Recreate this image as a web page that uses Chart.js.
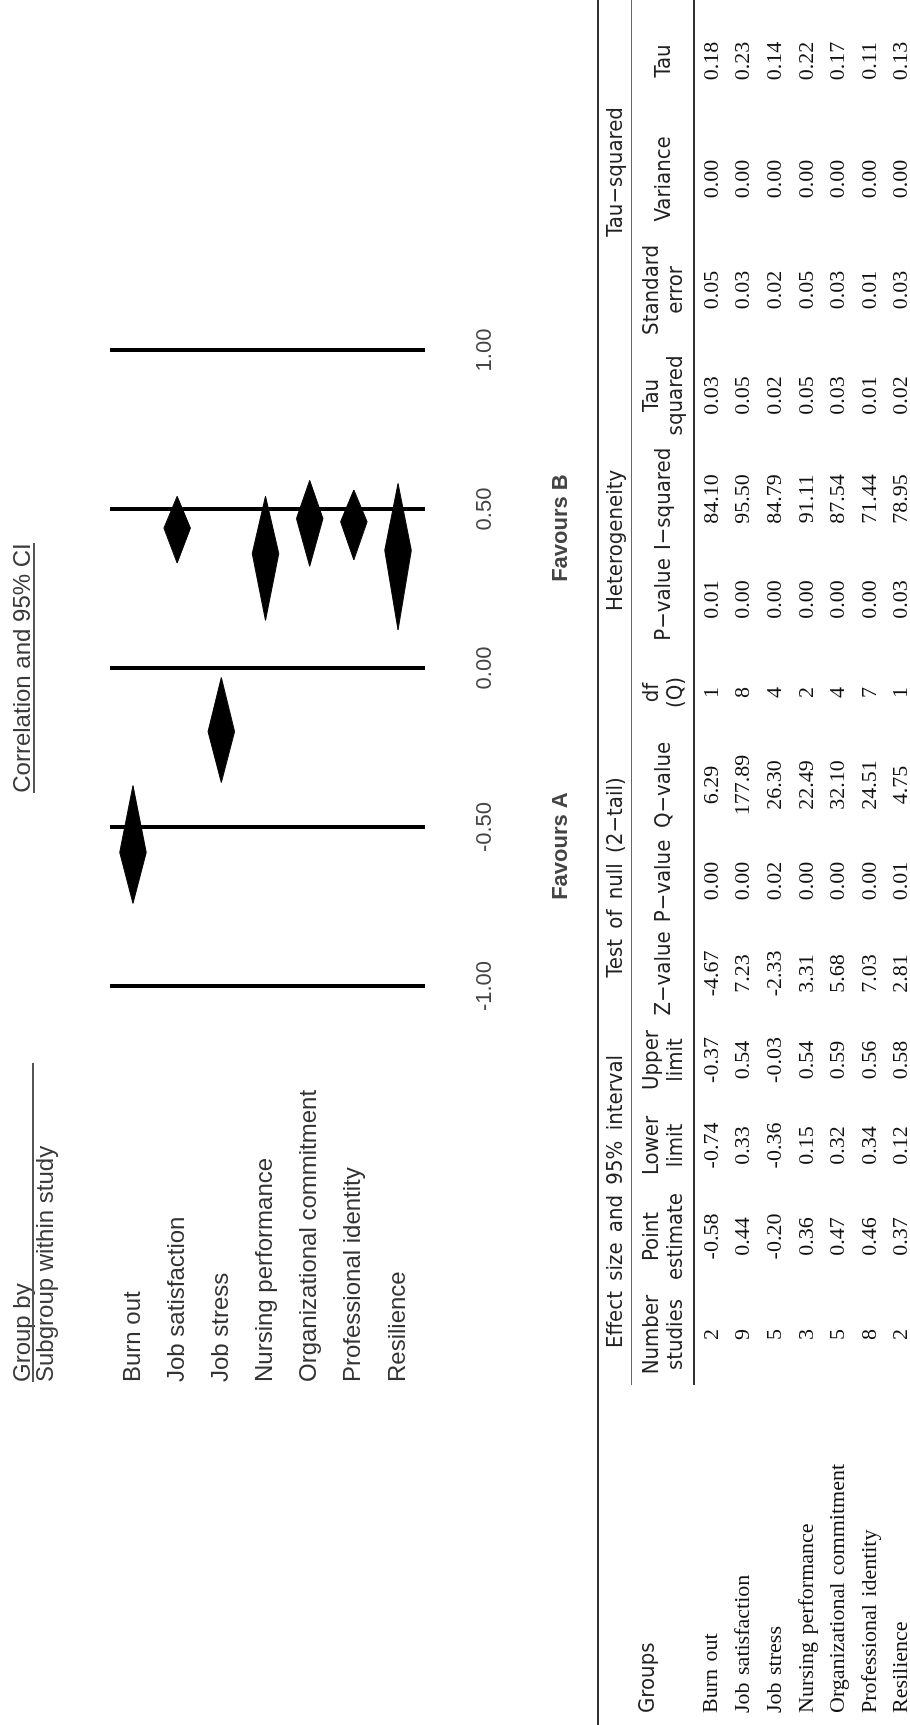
<!DOCTYPE html>
<html>
<head>
<meta charset="utf-8">
<script src="https://cdn.jsdelivr.net/npm/chart.js@4.4.0/dist/chart.umd.min.js"></script>
<style>
html,body{margin:0;padding:0;width:910px;height:1725px;overflow:hidden;background:#fff;}
#rot{position:absolute;left:0;top:1725px;width:1725px;height:910px;transform-origin:0 0;transform:rotate(-90deg);}
#forest{position:absolute;left:0;top:0;}
.hdr{position:absolute;font-family:"Liberation Sans",Arial,sans-serif;font-size:24px;color:#3a3a3a;white-space:nowrap;line-height:24px;}
.rule{position:absolute;height:2px;background:#555;}
.ul{display:inline-block;line-height:22px;border-bottom:2px solid #555;}
#tbl{position:absolute;left:0;top:597px;width:1725px;border-collapse:collapse;table-layout:fixed;color:#111;}
#tbl th{font-family:"Liberation Sans Narrow","DejaVu Sans Condensed",sans-serif;font-weight:normal;font-size:22px;color:#222;padding:0;line-height:24px;text-align:center;vertical-align:middle;white-space:nowrap;}
#tbl tr.g th{height:32px;border-top:2px solid #333;}
#tbl tr.g th.grp{border-bottom:1px solid #666;word-spacing:4px;}
#tbl tr.c th{height:61px;border-bottom:2px solid #333;}
#tbl th.lab{text-align:left;padding-left:12px;}
#tbl td{font-family:"Liberation Serif","Times New Roman",serif;font-size:22px;text-align:center;height:31.6px;padding:0;line-height:24px;vertical-align:middle;}
#tbl td.lab{text-align:left;padding-left:12px;white-space:nowrap;word-spacing:2px;}
</style>
</head>
<body>
<div id="rot">
  <canvas id="forest" width="1500" height="600"></canvas>
  <div class="hdr" style="left:343px;top:10px">Group by</div>
  <div class="rule" style="left:343px;top:32px;width:319px"></div>
  <div class="hdr" style="left:343px;top:33px">Subgroup within study</div>
  <div class="hdr" style="left:857px;top:10px;width:400px;text-align:center"><span class="ul">Correlation and 95% CI</span></div>
  <table id="tbl"></table>
</div>
<script>
// ---- data ----
const groups = ['Burn out','Job satisfaction','Job stress','Nursing performance','Organizational commitment','Professional identity','Resilience'];
const nStudies = [2, 9, 5, 3, 5, 8, 2];
const pointEst = [-0.58, 0.44, -0.20, 0.36, 0.47, 0.46, 0.37];
const lowerLim = [-0.74, 0.33, -0.36, 0.15, 0.32, 0.34, 0.12];
const upperLim = [-0.37, 0.54, -0.03, 0.54, 0.59, 0.56, 0.58];
const zValue = [-4.67, 7.23, -2.33, 3.31, 5.68, 7.03, 2.81];
const pNull = [0.00, 0.00, 0.02, 0.00, 0.00, 0.00, 0.01];
const qValue = [6.29, 177.89, 26.30, 22.49, 32.10, 24.51, 4.75];
const dfQ = [1, 8, 4, 2, 4, 7, 1];
const pHet = [0.01, 0.00, 0.00, 0.00, 0.00, 0.00, 0.03];
const iSquared = [84.10, 95.50, 84.79, 91.11, 87.54, 71.44, 78.95];
const tauSq = [0.03, 0.05, 0.02, 0.05, 0.03, 0.01, 0.02];
const tauSE = [0.05, 0.03, 0.02, 0.05, 0.03, 0.01, 0.03];
const tauVar = [0.00, 0.00, 0.00, 0.00, 0.00, 0.00, 0.00];
const tau = [0.18, 0.23, 0.14, 0.22, 0.17, 0.11, 0.13];

const axisTicks = [-1, -0.5, 0, 0.5, 1];
const favourLabels = ['Favours A', 'Favours B'];
const favourPos = [-0.56, 0.44];

const groupHeaders = ['Effect size and 95% interval', 'Test of null (2\u2212tail)', 'Heterogeneity', 'Tau\u2212squared'];
const groupSpans = [4, 3, 4, 3];
const colHeaders = [['Number','studies'],['Point','estimate'],['Lower','limit'],['Upper','limit'],['Z\u2212value'],['P\u2212value'],['Q\u2212value'],['df','(Q)'],['P\u2212value'],['I\u2212squared'],['Tau','squared'],['Standard','error'],['Variance'],['Tau']];
const colWidths = [340, 101, 95, 87, 84, 89, 96, 96, 89, 97, 104, 103, 108, 114, 122];

// ---- forest plot ----
const diamondHalf = 0.3;
const datasets = groups.map((g, i) => ({
  label: g,
  data: [
    {x: lowerLim[i], y: i},
    {x: pointEst[i], y: i - diamondHalf},
    {x: upperLim[i], y: i},
    {x: pointEst[i], y: i + diamondHalf},
    {x: lowerLim[i], y: i}
  ],
  showLine: true,
  fill: 'shape',
  backgroundColor: '#000',
  borderColor: '#000',
  borderWidth: 1,
  pointRadius: 0,
  tension: 0
}));

new Chart(document.getElementById('forest'), {
  type: 'scatter',
  data: {datasets},
  options: {
    responsive: false,
    animation: false,
    events: [],
    layout: {padding: {left: 343, right: 125, top: 110, bottom: 5}},
    plugins: {legend: {display: false}, tooltip: {enabled: false}},
    scales: {
      x: {
        type: 'linear', min: -1, max: 1, position: 'bottom',
        afterBuildTicks: s => { s.ticks = axisTicks.map(v => ({value: v})); },
        afterFit: s => { s.height = 80; },
        grid: {color: '#000', lineWidth: 4, drawTicks: false},
        border: {display: false},
        ticks: {padding: 47, maxRotation: 0, autoSkip: false, color: '#444',
          font: {family: 'Liberation Sans', size: 22},
          callback: v => Number(v).toFixed(2)}
      },
      x2: {
        type: 'linear', min: -1, max: 1, position: 'bottom',
        afterBuildTicks: s => { s.ticks = favourPos.map(v => ({value: v})); },
        afterFit: s => { s.height = 90; },
        grid: {display: false},
        border: {display: false},
        ticks: {padding: 35, maxRotation: 0, autoSkip: false, color: '#444',
          font: {family: 'Liberation Sans', size: 22, weight: 'bold'},
          callback: (v, i) => favourLabels[i]}
      },
      y: {
        type: 'linear', reverse: true, min: -0.52, max: 6.61,
        afterBuildTicks: s => { s.ticks = groups.map((g, i) => ({value: i})); },
        afterFit: s => { s.width = 396; },
        grid: {display: false},
        border: {display: false},
        ticks: {crossAlign: 'far', padding: 0, color: '#333',
          font: {family: 'Liberation Sans', size: 24},
          callback: v => groups[v]}
      }
    }
  }
});

// ---- table ----
const fmt2 = v => v.toFixed(2);
const columns = [nStudies.map(String), pointEst.map(fmt2), lowerLim.map(fmt2), upperLim.map(fmt2),
  zValue.map(fmt2), pNull.map(fmt2), qValue.map(fmt2), dfQ.map(String), pHet.map(fmt2),
  iSquared.map(fmt2), tauSq.map(fmt2), tauSE.map(fmt2), tauVar.map(fmt2), tau.map(fmt2)];

let html = '<colgroup>' + colWidths.map(w => `<col style="width:${w}px">`).join('') + '</colgroup>';
html += '<thead><tr class="g"><th class="lab" rowspan="2">Groups</th>';
groupHeaders.forEach((h, k) => { html += `<th class="grp" colspan="${groupSpans[k]}">${h}</th>`; });
html += '</tr><tr class="c">';
colHeaders.forEach(lines => { html += `<th>${lines.join('<br>')}</th>`; });
html += '</tr></thead><tbody>';
groups.forEach((g, i) => {
  html += `<tr><td class="lab">${g}</td>` + columns.map(c => `<td>${c[i]}</td>`).join('') + '</tr>';
});
html += '</tbody>';
document.getElementById('tbl').innerHTML = html;
</script>
</body>
</html>
